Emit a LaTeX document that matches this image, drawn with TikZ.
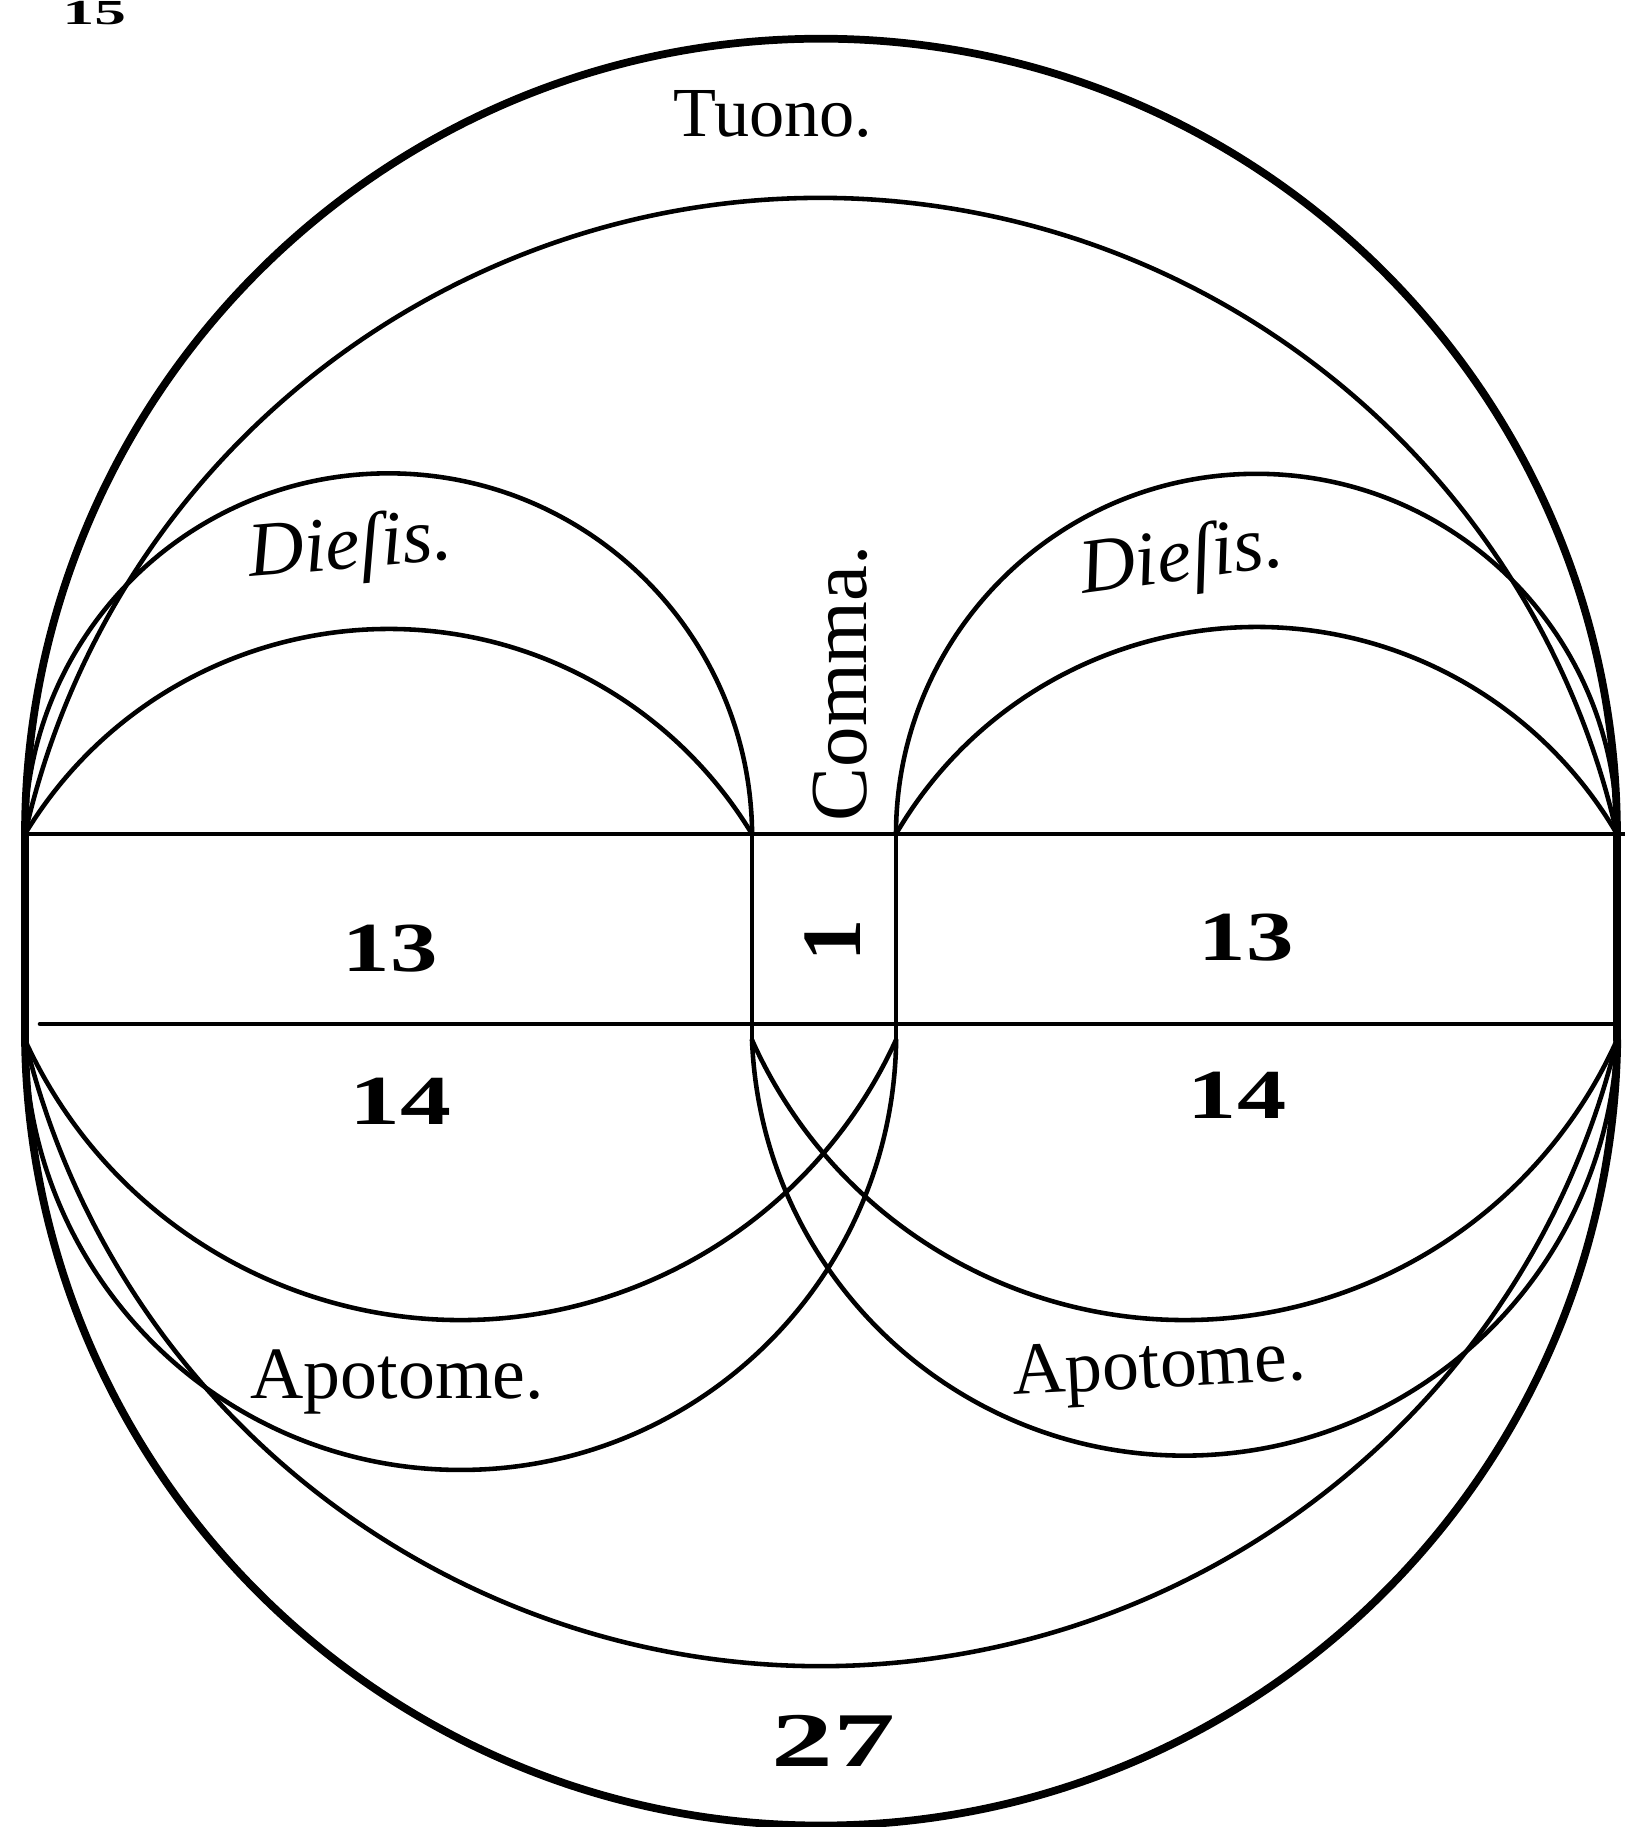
\documentclass[tikz,border=0pt]{standalone}
\usepackage{fontspec}
\setmainfont{Liberation Serif}
% arc above a horizontal chord: [style]{x left}{x right}{y}{sagitta}
\newcommand{\UpArc}[5][]{%
  \pgfmathsetmacro{\ArcHc}{(#3-#2)/2}%
  \pgfmathsetmacro{\ArcRad}{(\ArcHc*\ArcHc+#5*#5)/(2*#5)}%
  \pgfmathsetmacro{\ArcAng}{asin(min(1,\ArcHc/\ArcRad))}%
  \draw[#1] (#2,#4) arc[start angle={90+\ArcAng}, end angle={90-\ArcAng}, radius=\ArcRad];%
}
% arc below a horizontal chord
\newcommand{\DownArc}[5][]{%
  \pgfmathsetmacro{\ArcHc}{(#3-#2)/2}%
  \pgfmathsetmacro{\ArcRad}{(\ArcHc*\ArcHc+#5*#5)/(2*#5)}%
  \pgfmathsetmacro{\ArcAng}{asin(min(1,\ArcHc/\ArcRad))}%
  \draw[#1] (#2,#4) arc[start angle={270-\ArcAng}, end angle={270+\ArcAng}, radius=\ArcRad];%
}
\tikzset{
  ln/.style={line width=1.3pt, line cap=round},
  ol/.style={line width=2.2pt, line cap=round},
  word/.style={inner sep=0pt},
  num/.style={inner sep=0pt, font=\bfseries\fontsize{20}{24}\selectfont},
}
\begin{document}
\begin{tikzpicture}[x=1cm,y=1cm]
\useasboundingbox (0,0) rectangle (16.25,18.27);
% key points
\coordinate (L)  at (0.25,9.93);
\coordinate (R)  at (16.17,9.93);
\coordinate (LL) at (0.25,7.87);
\coordinate (RR) at (16.17,7.87);
\coordinate (CLt) at (7.52,9.93);
\coordinate (CLb) at (7.52,7.87);
\coordinate (CRt) at (8.96,9.93);
\coordinate (CRb) at (8.96,7.87);
% horizontal bands
\draw[ln] (L) -- (16.25,9.93);
\draw[ln] (0.40,8.03) -- (16.12,8.03);
% comma lines
\draw[ln] (CLt) -- (CLb);
\draw[ln] (CRt) -- (CRb);
% outer sides
\draw[ol] (L) -- (LL);
\draw[ol] (R) -- (RR);
% upper arcs: Tuono
\UpArc[ol]{0.25}{16.17}{9.93}{7.96}
\UpArc[ln]{0.25}{16.17}{9.93}{6.36}
% Diesis left
\UpArc[ln]{0.25}{7.52}{9.93}{3.56}
\UpArc[ln]{0.25}{7.52}{9.93}{2.05}
% Diesis right
\UpArc[ln]{8.96}{16.17}{9.93}{3.59}
\UpArc[ln]{8.96}{16.17}{9.93}{2.07}
% lower arcs: 27
\DownArc[ol]{0.25}{16.17}{7.87}{7.77}
\DownArc[ln]{0.25}{16.17}{7.87}{6.26}
% Apotome left
\DownArc[ln]{0.25}{8.96}{7.87}{4.25}
\DownArc[ln]{0.25}{8.96}{7.87}{2.80}
% Apotome right
\DownArc[ln]{7.52}{16.17}{7.87}{4.15}
\DownArc[ln]{7.52}{16.17}{7.87}{2.80}
% labels
\node[word, anchor=base west, font=\fontsize{20}{24}\selectfont] (tuono) at (6.73,16.90) {Tuono.};
\node[word, anchor=base west, rotate=5, font=\itshape\fontsize{22}{26}\selectfont] (diesisL) at (2.50,12.50) {Dieſis.};
\node[word, anchor=base west, rotate=8, font=\itshape\fontsize{22}{26}\selectfont] (diesisR) at (10.83,12.33) {Dieſis.};
\node[word, anchor=base west, rotate=90, font=\fontsize{23}{27}\selectfont] (comma) at (8.66,10.05) {Comma.};
\node[num, rotate=90, font=\bfseries\fontsize{24}{28}\selectfont] (one) at (8.33,8.87) {1};
\node[num] (tredL) at (3.90,8.78) {\scalebox{1.35}[1]{13}};
\node[num] (tredR) at (12.46,8.89) {\scalebox{1.35}[1]{13}};
\node[num] (quatL) at (4.00,7.26) {\scalebox{1.45}[1]{14}};
\node[num] (quatR) at (12.37,7.32) {\scalebox{1.4}[1]{14}};
\node[word, anchor=base west, font=\fontsize{21}{25}\selectfont] (apoL) at (2.50,4.28) {Apotome.};
\node[word, anchor=base west, rotate=3, font=\fontsize{21}{25}\selectfont] (apoR) at (10.13,4.32) {Apotome.};
\node[num, font=\bfseries\fontsize{22}{26}\selectfont] (vs) at (8.33,0.86) {\scalebox{1.6}[1]{27}};
\node[num, anchor=base west, font=\bfseries\fontsize{10}{12}\selectfont] (page) at (0.62,18.02) {\scalebox{1.8}[1]{15}};
\end{tikzpicture}
\end{document}
